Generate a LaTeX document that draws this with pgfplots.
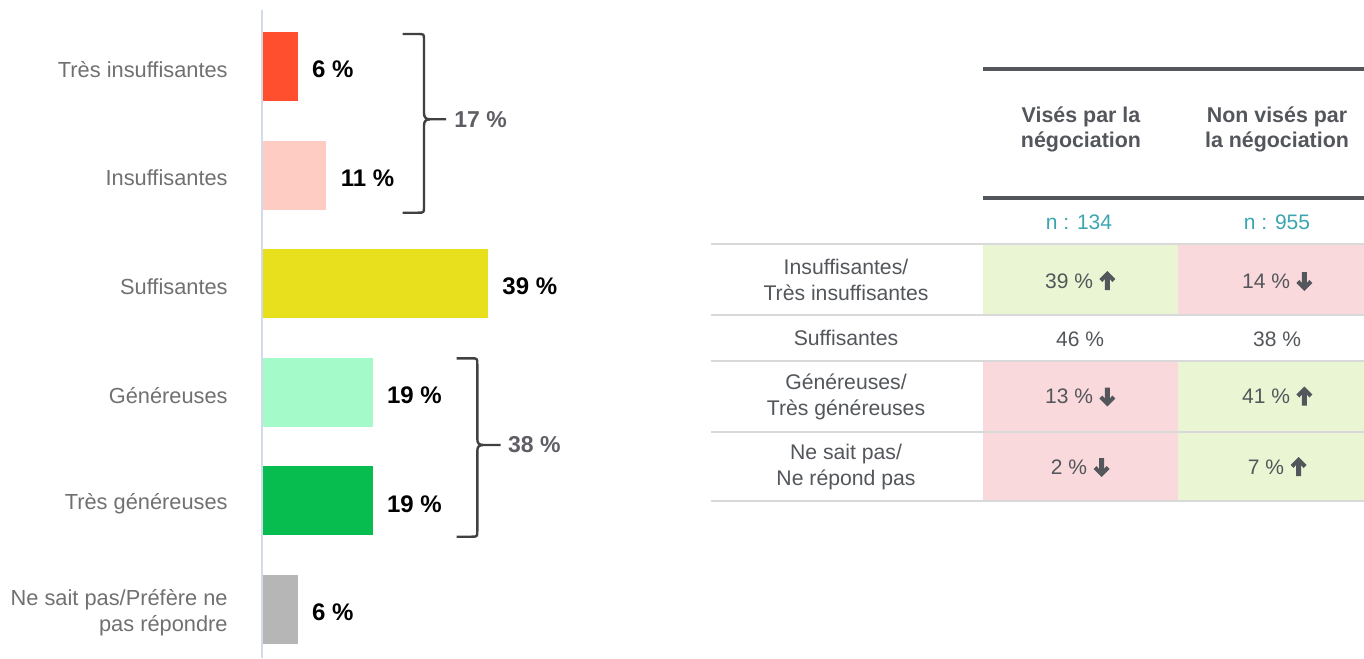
\documentclass[border=0pt]{standalone}
\usepackage{fontspec}
\setmainfont{Liberation Sans}
\usepackage{pgfplots}
\pgfplotsset{compat=1.18}
\usetikzlibrary{arrows.meta}
\definecolor{c1}{HTML}{FF4F2F}
\definecolor{c2}{HTML}{FFCCC4}
\definecolor{c3}{HTML}{E8E01C}
\definecolor{c4}{HTML}{A4FAC8}
\definecolor{c5}{HTML}{08BD50}
\definecolor{c6}{HTML}{B6B6B6}
\definecolor{axisc}{HTML}{D3DAE8}
\definecolor{labc}{HTML}{707070}
\definecolor{brc}{HTML}{404040}
\definecolor{sumc}{HTML}{5E5E64}
\definecolor{hdr}{HTML}{53565A}
\definecolor{tealc}{HTML}{3BA5B0}
\definecolor{grc}{HTML}{EAF5D3}
\definecolor{pkc}{HTML}{F9D9DC}
\definecolor{thinc}{HTML}{D9D9D9}
\newcommand{\fs}[1]{\fontsize{#1}{#1}\selectfont}
\newcommand{\fsb}[2]{\fontsize{#1}{#2}\selectfont}
\newcommand{\arrpath}{(-8,-10) -- (0,-2) -- (-3,1) -- (-5.5,-2) -- (-5.5,9) -- (-10.5,9) -- (-10.5,-2) -- (-13,1) -- (-16,-2) -- cycle}
\newcommand{\uparr}[1]{%
  \fill[hdr,shift={(#1.east)},x=0.5pt,y=-0.5pt] \arrpath;}
\newcommand{\dnarr}[1]{%
  \fill[hdr,shift={(#1.east)},x=0.5pt,y=0.5pt] \arrpath;}
\newcommand{\gap}{\rule{11pt}{0pt}}
\begin{document}
\begin{tikzpicture}
\begin{scope}[x=0.5pt,y=-0.5pt]
\draw[axisc, line width=1pt] (262,10) -- (262,658);
\end{scope}
\begin{axis}[
  anchor=north west, at={(131.5pt,-6.1pt)},
  x=2.885pt, y=54.3pt, y dir=reverse,
  xmin=0, xmax=50, ymin=-0.5, ymax=5.45,
  axis line style={draw=none},
  xtick=\empty,
  ytick={0,1,2,3,4,5},
  yticklabels={Très insuffisantes, Insuffisantes, Suffisantes, Généreuses, Très généreuses, {Ne sait pas/Préfère ne\\pas répondre}},
  major tick length=0pt,
  ytick style={draw=none},
  yticklabel style={font=\fsb{10.9}{13}, text=labc, align=right, inner sep=0pt, xshift=-17.5pt, yshift=-1.5pt},
  xbar, bar width=34.5pt, bar shift=0pt,
  clip=false,
  point meta=x,
  /pgf/number format/assume math mode=true,
  nodes near coords={\pgfmathprintnumber{\pgfplotspointmeta}~\%},
  every node near coord/.append style={font=\bfseries\fs{12}, text=black, inner sep=0pt, xshift=7pt, yshift=-1.5pt},
]
\addplot[fill=c1, draw=none] coordinates {(6,0)};
\addplot[fill=c2, draw=none] coordinates {(11,1)};
\addplot[fill=c3, draw=none] coordinates {(39,2)};
\addplot[fill=c4, draw=none] coordinates {(19,3)};
\addplot[fill=c5, draw=none] coordinates {(19,4)};
\addplot[fill=c6, draw=none] coordinates {(6,5)};
\end{axis}
\begin{scope}[x=0.5pt,y=-0.5pt]
% braces
\draw[brc, line width=1.2pt, line join=round] (402.7,34) -- (418,34) .. controls (424,34) .. (424,40) -- (424,113) .. controls (424,117.5) and (426,119.3) .. (430,119.3) -- (446,119.3);
\draw[brc, line width=1.2pt, line join=round] (430,119.3) .. controls (426,119.3) and (424,121) .. (424,125.6) -- (424,206.7) .. controls (424,212.7) .. (418,212.7) -- (402.7,212.7);
\node[anchor=west, inner sep=0pt, font=\bfseries\fs{11.5}, text=sumc] at (454,119.3) {17~\%};
\draw[brc, line width=1.2pt, line join=round] (456.7,358.3) -- (471.3,358.3) .. controls (477.3,358.3) .. (477.3,364.3) -- (477.3,439) .. controls (477.3,443.5) and (479.3,445) .. (483.3,445) -- (500.7,445);
\draw[brc, line width=1.2pt, line join=round] (483.3,445) .. controls (479.3,445) and (477.3,446.5) .. (477.3,451) -- (477.3,530.7) .. controls (477.3,536.7) .. (471.3,536.7) -- (456.7,536.7);
\node[anchor=west, inner sep=0pt, font=\bfseries\fs{11.5}, text=sumc] at (507.7,445) {38~\%};
% table fills
\fill[grc] (983,245) rectangle (1178,315);
\fill[pkc] (1178,245) rectangle (1364,315);
\fill[pkc] (983,361) rectangle (1178,432);
\fill[grc] (1178,361) rectangle (1364,432);
\fill[pkc] (983,432) rectangle (1178,501);
\fill[grc] (1178,432) rectangle (1364,501);
% lines
\foreach \yy in {244,315,361,432,501} \draw[thinc, line width=0.9pt] (711,\yy) -- (1364,\yy);
\draw[hdr, line width=1.6pt] (983,69) -- (1364,69);
\draw[hdr, line width=1.6pt] (983,198) -- (1364,198);
% header
\node[align=center, inner sep=0pt, font=\bfseries\fsb{10.7}{12.5}, text=hdr] at (1081,129.5) {Visés par la\\négociation};
\node[align=center, inner sep=0pt, font=\bfseries\fsb{10.7}{12.5}, text=hdr] at (1277,129.5) {Non visés par\\la négociation};
\node[inner sep=0pt, font=\fs{10.5}, text=tealc] at (1079,222) {n : 134};
\node[inner sep=0pt, font=\fs{10.5}, text=tealc] at (1277,222) {n : 955};
% row labels
\tikzset{rl/.style={align=center, inner sep=0pt, font=\fsb{10.6}{13}, text=hdr}}
\node[rl] at (846,280) {Insuffisantes/\\Très insuffisantes};
\node[rl] at (846,338) {Suffisantes};
\node[rl] at (846,396.5) {Généreuses/\\Très généreuses};
\node[rl] at (846,467) {Ne sait pas/\\Ne répond pas};
% values
\tikzset{vl/.style={inner sep=0pt, font=\fs{10.5}, text=hdr}}
\node[vl] (a1) at (1080,281) {39~\%\gap}; \uparr{a1}
\node[vl] (b1) at (1277,281) {14~\%\gap}; \dnarr{b1}
\node[vl] at (1080,339) {46~\%};
\node[vl] at (1277,339) {38~\%};
\node[vl] (a3) at (1080,396.5) {13~\%\gap}; \dnarr{a3}
\node[vl] (b3) at (1277,396.5) {41~\%\gap}; \uparr{b3}
\node[vl] (a4) at (1080,467) {2~\%\gap}; \dnarr{a4}
\node[vl] (b4) at (1277,467) {7~\%\gap}; \uparr{b4}
\end{scope}
\pgfresetboundingbox
\path[use as bounding box] (0,0) rectangle (682pt,-329pt);
\end{tikzpicture}
\end{document}
